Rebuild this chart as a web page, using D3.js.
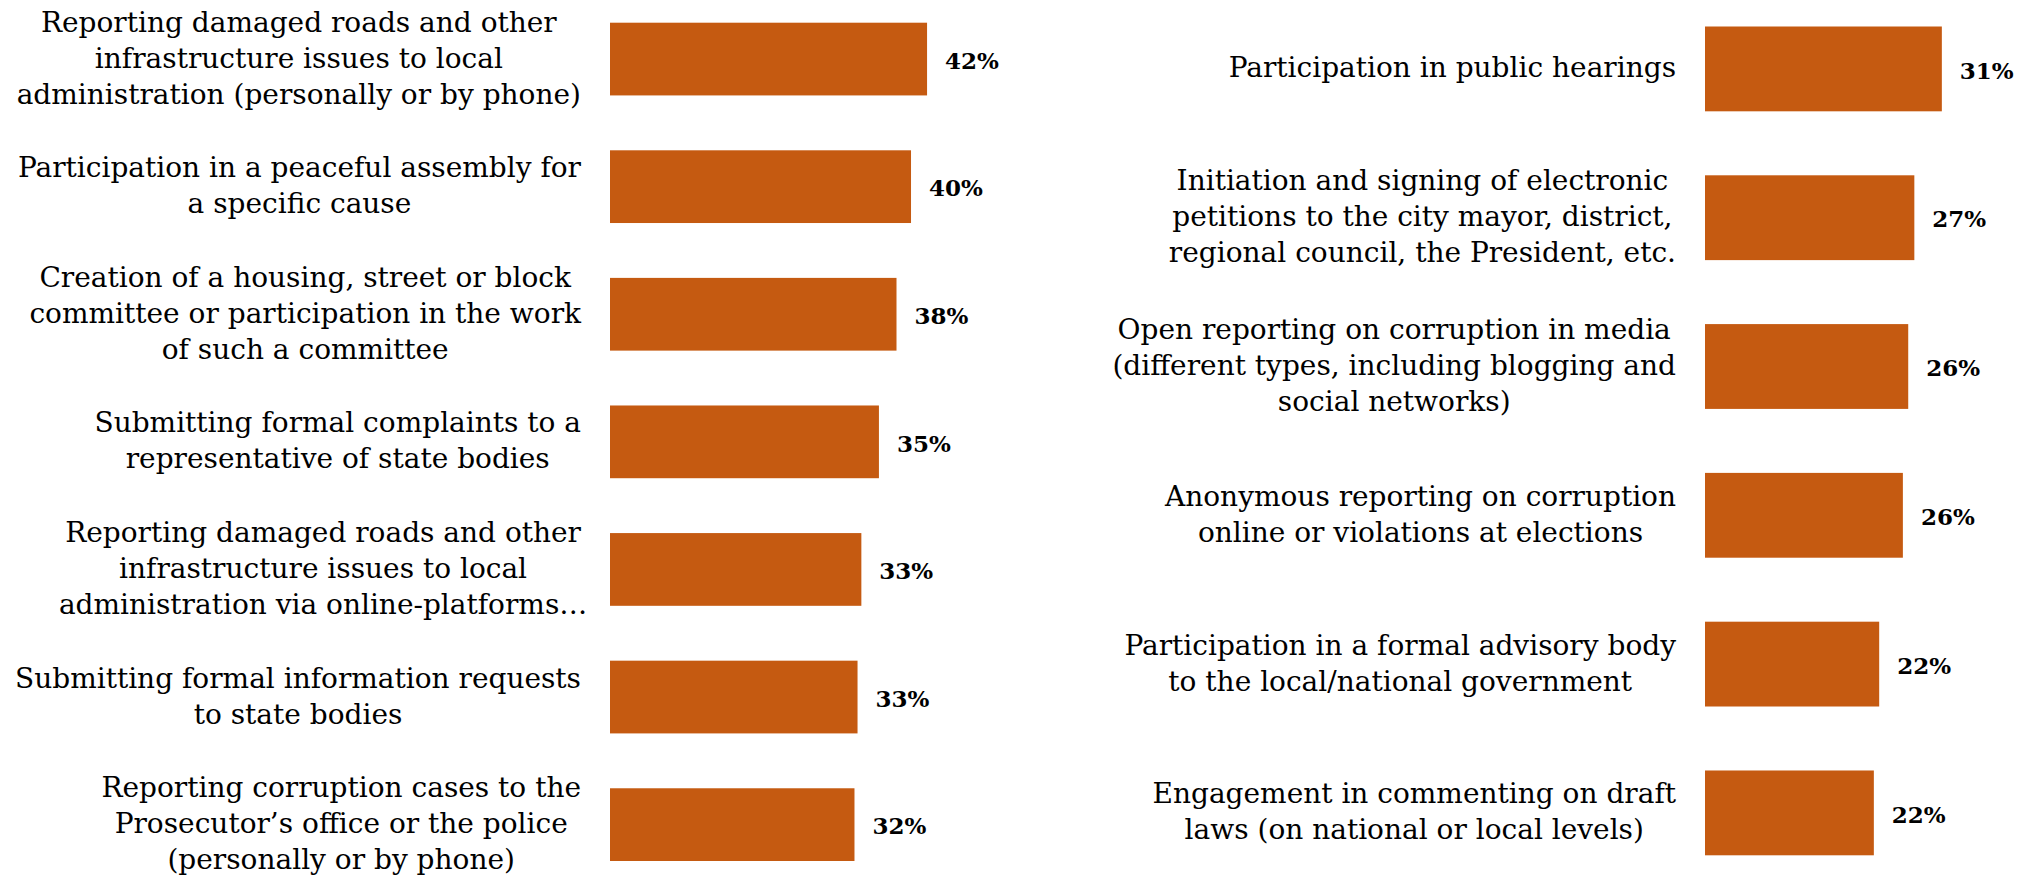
<!DOCTYPE html>
<html>
<head>
<meta charset="utf-8">
<script src="https://cdn.jsdelivr.net/npm/d3@7"></script>
<style>
    body { margin: 0; background: #fff; }
    svg { display: block; }
</style>
</head>
<body>
<div id="chart"></div>
<script>
'use strict';

// left panel
const leftCategories = [
    ["Reporting damaged roads and other", "infrastructure issues to local", "administration (personally or by phone)"],
    ["Participation in a peaceful assembly for", "a specific cause"],
    ["Creation of a housing, street or block", "committee or participation in the work", "of such a committee"],
    ["Submitting formal complaints to a", "representative of state bodies"],
    ["Reporting damaged roads and other", "infrastructure issues to local", "administration via online-platforms…"],
    ["Submitting formal information requests", "to state bodies"],
    ["Reporting corruption cases to the", "Prosecutor’s office or the police", "(personally or by phone)"]
];
const leftValues = [41.5, 39.4, 37.5, 35.2, 32.9, 32.4, 32.0];
const leftValueLabels = ["42%", "40%", "38%", "35%", "33%", "33%", "32%"];

// right panel
const rightCategories = [
    ["Participation in public hearings"],
    ["Initiation and signing of electronic", "petitions to the city mayor, district,", "regional council, the President, etc."],
    ["Open reporting on corruption in media", "(different types, including blogging and", "social networks)"],
    ["Anonymous reporting on corruption", "online or violations at elections"],
    ["Participation in a formal advisory body", "to the local/national government"],
    ["Engagement in commenting on draft", "laws (on national or local levels)"]
];
const rightValues = [31.0, 27.4, 26.6, 25.9, 22.8, 22.1];
const rightValueLabels = ["31%", "27%", "26%", "26%", "22%", "22%"];

class BarPanel {

    constructor (svg)
    {
        this.svg = svg;
        this.color = "#c55a11";
        this.fontSize = 28;
        this.lineHeight = 36;
        this.valueFont = 23;
        this.valueGap = 18;
    }

    setData (categories, values, labels)
    {
        this.data = values.map((v, i) => ({i: i, value: v, lines: categories[i], label: labels[i]}));
        return this;
    }

    setFrame (barLeft, labelRight, top, bottom)
    {
        this.barLeft = barLeft;
        this.labelRight = labelRight;
        this.top = top;
        this.bottom = bottom;
        return this;
    }

    build ()
    {
        this.xScale = d3.scaleLinear().domain([0, 100]).range([0, 764]);
        this.yScale = d3.scaleBand()
            .domain(this.data.map(d => d.i))
            .range([this.top, this.bottom])
            .paddingInner(0.43)
            .paddingOuter(0);

        let g = this.svg.append('g');

        g.selectAll('rect')
            .data(this.data)
            .enter()
            .append('rect')
            .attr('x', this.barLeft)
            .attr('y', d => this.yScale(d.i))
            .attr('width', d => this.xScale(d.value))
            .attr('height', this.yScale.bandwidth())
            .style('fill', this.color);

        g.selectAll('.value')
            .data(this.data)
            .enter()
            .append('text')
            .attr('class', 'value')
            .attr('x', d => this.barLeft + this.xScale(d.value) + this.valueGap)
            .attr('y', d => this.yScale(d.i) + this.yScale.bandwidth()/2)
            .attr('dy', '0.42em')
            .style('font-family', '"DejaVu Serif", serif')
            .style('font-weight', 'bold')
            .style('font-size', this.valueFont + 'px')
            .style('fill', '#000')
            .text(d => d.label);

        let labels = g.selectAll('.cat')
            .data(this.data)
            .enter()
            .append('text')
            .attr('class', 'cat')
            .attr('text-anchor', 'middle')
            .style('font-family', '"DejaVu Serif", serif')
            .style('font-size', this.fontSize + 'px')
            .style('fill', '#000');

        labels.each((d, i, nodes) =>
        {
            let text = d3.select(nodes[i]);
            let center = this.yScale(d.i) + this.yScale.bandwidth()/2;
            let n = d.lines.length;
            let spans = d.lines.map((line, k) => text.append('tspan')
                .attr('y', center + 8.5 + (k - (n-1)/2)*this.lineHeight)
                .text(line));
            // widest line touches the right edge, the rest are centred on it
            let widths = spans.map(s => s.node().getComputedTextLength());
            let w = d3.max(widths.filter((x, k) => !d.lines[k].endsWith('…'))) || d3.max(widths);
            spans.forEach(s => s.attr('x', this.labelRight - w/2));
        });

        return this;
    }
}

let svg = d3.select('#chart').append('svg')
    .attr('width', 2019)
    .attr('height', 876);

new BarPanel(svg)
    .setData(leftCategories, leftValues, leftValueLabels)
    .setFrame(610, 581, 22.7, 861)
    .build();

new BarPanel(svg)
    .setData(rightCategories, rightValues, rightValueLabels)
    .setFrame(1705, 1676, 26.5, 855.3)
    .build();
</script>
</body>
</html>
